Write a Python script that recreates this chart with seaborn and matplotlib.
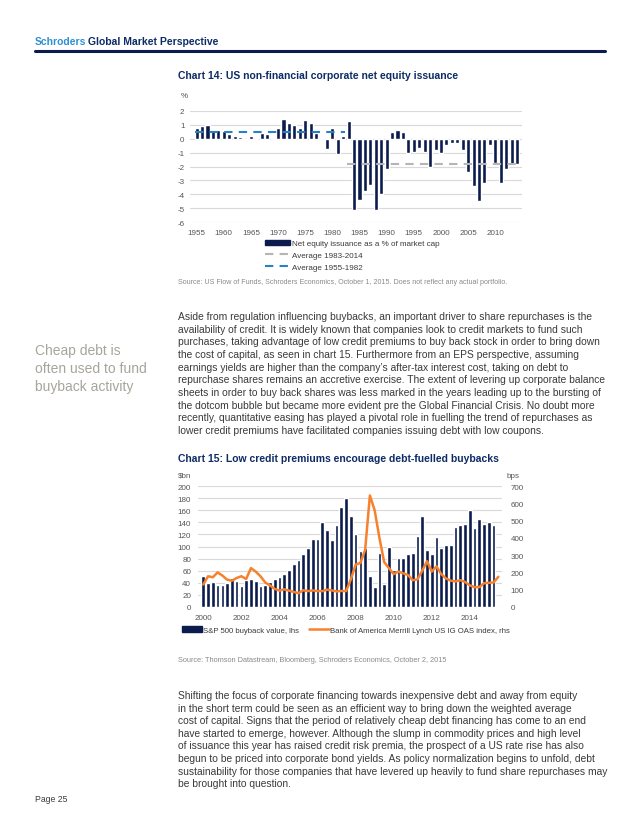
import numpy as np
import pandas as pd
import seaborn as sns
import matplotlib.pyplot as plt
from matplotlib.patches import Patch
from matplotlib.lines import Line2D

# chart 14 data: annual net equity issuance, % of market cap
years14 = list(range(1955, 2015))
issuance = [0.75, 0.9, 1.0, 0.6, 0.65, 0.55, 0.35, 0.2, 0.1, -0.1,
            0.2, 0.05, 0.4, 0.35, -0.1, 0.8, 1.4, 1.1, 1.0, 0.75,
            1.35, 1.15, 0.4, 0.05, -0.75, 0.8, -1.1, 0.2, 1.25, -5.1,
            -4.45, -3.8, -3.35, -5.1, -4.0, -2.15, 0.5, 0.65, 0.5, -1.0,
            -0.95, -0.7, -0.95, -2.0, -0.8, -1.0, -0.45, -0.3, -0.3, -0.8,
            -2.4, -3.4, -4.5, -3.2, -0.45, -1.75, -3.2, -2.2, -1.8, -1.8]
early_period = (1955, 1982)
late_period = (1983, 2014)
avg_early = 0.47
avg_late = -1.85
xticks14 = list(range(1955, 2015, 5))
yticks14 = list(range(-6, 3))

# chart 15 data: quarterly, 2000Q1 onwards
buyback = [52, 40, 41, 36, 36, 40, 48, 43, 34, 44, 46, 43, 34, 37, 41, 47,
           49, 55, 61, 71, 77, 88, 98, 113, 113, 140, 128, 111, 135, 166, 180, 150,
           120, 93, 97, 51, 33, 90, 38, 99, 61, 81, 81, 88, 89, 117, 151, 95,
           87, 115, 97, 103, 103, 133, 135, 137, 160, 131, 146, 137, 140, 136]
oas = [130, 178, 172, 200, 182, 158, 152, 168, 178, 162, 225, 205, 178, 142, 125, 105,
       95, 102, 95, 87, 80, 97, 92, 96, 92, 92, 100, 96, 90, 93, 92, 160,
       245, 255, 330, 645, 560, 400, 260, 225, 190, 205, 195, 185, 155, 160, 210, 265,
       205, 235, 190, 165, 152, 148, 155, 145, 125, 115, 115, 138, 140, 142, 175]
quarters = 2000 + np.arange(len(oas)) / 4
xticks15 = list(range(2000, 2016, 2))

NAVY = '#0b1b4d'
TITLE = '#0d2b66'
LIGHTBLUE = '#2f8fd3'
ORANGE = '#f7812d'
BLUE = '#2b7fc3'
GREY = '#b5b5b5'
GRID = '#d9d9d9'
TXT = '#3a3a3a'
TICK = '#555555'
SRC = '#8a8a8a'

sns.set_style('white')
plt.rcParams['font.family'] = ['Liberation Sans', 'DejaVu Sans']
plt.rcParams['axes.unicode_minus'] = False

W, H = 640, 828
fig = plt.figure(figsize=(W / 100, H / 100), dpi=100)


def rect(l, t, r, b):
    return [l / W, 1 - b / H, (r - l) / W, (b - t) / H]


def put(x, y, s, **kw):
    kw.setdefault('va', 'center')
    kw.setdefault('ha', 'left')
    return fig.text(x / W, 1 - y / H, s, **kw)


def style_axis(ax):
    for sp in ax.spines.values():
        sp.set_visible(False)
    ax.tick_params(length=0, labelsize=5.8, colors=TICK)
    ax.set_xlabel('')
    ax.set_ylabel('')


# header
renderer = fig.canvas.get_renderer()
t = put(35, 42, 'Schroders', fontsize=7.5, fontweight='bold', color=LIGHTBLUE)
bb = t.get_window_extent(renderer)
put(35 + bb.width + 2, 42, 'Global Market Perspective', fontsize=7.5, fontweight='bold', color=TITLE)
fig.add_artist(Line2D([35 / W, 605 / W], [1 - 52 / H, 1 - 52 / H], color=NAVY, lw=2.2))

# ---- chart 14
put(178, 76, 'Chart 14: US non-financial corporate net equity issuance', fontsize=7.5,
    fontweight='bold', color=TITLE)
put(181, 97, '%', fontsize=5.8, color=TICK)
ax1 = fig.add_axes(rect(190, 112, 522, 223))
ax1.set_axisbelow(True)
ax1.yaxis.grid(True, color=GRID, lw=0.8)
sns.barplot(x=years14, y=issuance, native_scale=True, color=NAVY, saturation=1,
            width=0.76, errorbar=None, ax=ax1, zorder=2)
sns.lineplot(x=[early_period[0] - 0.4, early_period[1] + 0.4], y=[avg_early, avg_early],
             color=BLUE, lw=1.5, linestyle=(0, (4, 3)), ax=ax1, zorder=3)
sns.lineplot(x=[late_period[0] - 0.4, late_period[1] + 0.4], y=[avg_late, avg_late],
             color=GREY, lw=1.5, linestyle=(0, (4, 3)), ax=ax1, zorder=3)
ax1.set_ylim(-6, 2)
ax1.set_yticks(yticks14)
ax1.set_xticks(xticks14)
ax1.set_xticklabels([str(y) for y in xticks14])
ax1.set_xlim(1953.77, 2014.92)
style_axis(ax1)
ax1.tick_params(axis='y', pad=4)
ax1.tick_params(axis='x', pad=5)

fig.legend(handles=[Patch(color=NAVY), Line2D([], [], color=GREY, lw=1.5, linestyle=(0, (4, 3))),
                    Line2D([], [], color=BLUE, lw=1.5, linestyle=(0, (4, 3)))],
           labels=['Net equity issuance as a % of market cap', 'Average 1983-2014', 'Average 1955-1982'],
           loc='upper left', bbox_to_anchor=(265 / W, 1 - 240.5 / H), frameon=False, fontsize=5.75,
           handlelength=3.1, handletextpad=0.3, labelspacing=0.55, borderpad=0, borderaxespad=0,
           labelcolor=TXT)
put(178, 283, 'Source: US Flow of Funds, Schroders Economics, October 1, 2015. Does not reflect any actual portfolio.',
    fontsize=5.1, color=SRC)

# ---- body text 1
side = ['Cheap debt is', 'often used to fund', 'buyback activity']
for i, s in enumerate(side):
    put(35, 351 + i * 18, s, fontsize=10, color='#a7a59b')
para1 = [
    'Aside from regulation influencing buybacks, an important driver to share repurchases is the',
    'availability of credit. It is widely known that companies look to credit markets to fund such',
    'purchases, taking advantage of low credit premiums to buy back stock in order to bring down',
    'the cost of capital, as seen in chart 15. Furthermore from an EPS perspective, assuming',
    'earnings yields are higher than the company\u2019s after-tax interest cost, taking on debt to',
    'repurchase shares remains an accretive exercise. The extent of levering up corporate balance',
    'sheets in order to buy back shares was less marked in the years leading up to the bursting of',
    'the dotcom bubble but became more evident pre the Global Financial Crisis. No doubt more',
    'recently, quantitative easing has played a pivotal role in fuelling the trend of repurchases as',
    'lower credit premiums have facilitated companies issuing debt with low coupons.',
]
for i, s in enumerate(para1):
    put(178, 317 + i * 12.67, s, fontsize=7.4, color=TXT)

# ---- chart 15
put(178, 459, 'Chart 15: Low credit premiums encourage debt-fuelled buybacks', fontsize=7.5,
    fontweight='bold', color=TITLE)
put(178, 476.5, '$bn', fontsize=5.8, color=TICK)
put(507, 476.5, 'bps', fontsize=5.8, color=TICK)
ax2 = fig.add_axes(rect(198, 487, 502, 608))
ax2.set_axisbelow(True)
ax2.yaxis.grid(True, color=GRID, lw=0.8)
sns.barplot(x=quarters[:len(buyback)], y=buyback, native_scale=True, color=NAVY, saturation=1,
            width=0.78, errorbar=None, ax=ax2)
ax2.set_ylim(0, 200)
ax2.set_yticks(range(0, 201, 20))
ax2.set_xticks(xticks15)
ax2.set_xticklabels([str(y) for y in xticks15])
ax2.set_xlim(1999.72, 2015.69)
style_axis(ax2)
ax2.tick_params(axis='y', pad=5)
ax2.tick_params(axis='x', pad=5)

ax3 = ax2.twinx()
sns.lineplot(x=quarters, y=oas, color=ORANGE, lw=1.8, ax=ax3)
ax3.set_ylim(0, 700)
ax3.set_yticks(range(0, 701, 100))
ax3.set_xlim(1999.72, 2015.69)
style_axis(ax3)
ax3.tick_params(axis='y', pad=6)

fig.legend(handles=[Patch(color=NAVY), Line2D([], [], color=ORANGE, lw=1.8)],
           labels=['S&P 500 buyback value, lhs', 'Bank of America Merrill Lynch US IG OAS index, rhs'],
           ncol=2, loc='center left', bbox_to_anchor=(182 / W, 1 - 631 / H), frameon=False, fontsize=5.6,
           handlelength=2.6, handletextpad=0.15, columnspacing=1.2, borderpad=0, borderaxespad=0,
           labelcolor=TXT)
put(178, 661, 'Source: Thomson Datastream, Bloomberg, Schroders Economics, October 2, 2015',
    fontsize=5.3, color=SRC)

# ---- body text 2
para2 = [
    'Shifting the focus of corporate financing towards inexpensive debt and away from equity',
    'in the short term could be seen as an efficient way to bring down the weighted average',
    'cost of capital. Signs that the period of relatively cheap debt financing has come to an end',
    'have started to emerge, however. Although the slump in commodity prices and high level',
    'of issuance this year has raised credit risk premia, the prospect of a US rate rise has also',
    'begun to be priced into corporate bond yields. As policy normalization begins to unfold, debt',
    'sustainability for those companies that have levered up heavily to fund share repurchases may',
    'be brought into question.',
]
for i, s in enumerate(para2):
    put(178, 696 + i * 12.6, s, fontsize=7.4, color=TXT)

put(35, 800, 'Page 25', fontsize=6.2, color=TXT)

fig.savefig('out.png', dpi=100, facecolor='white')
